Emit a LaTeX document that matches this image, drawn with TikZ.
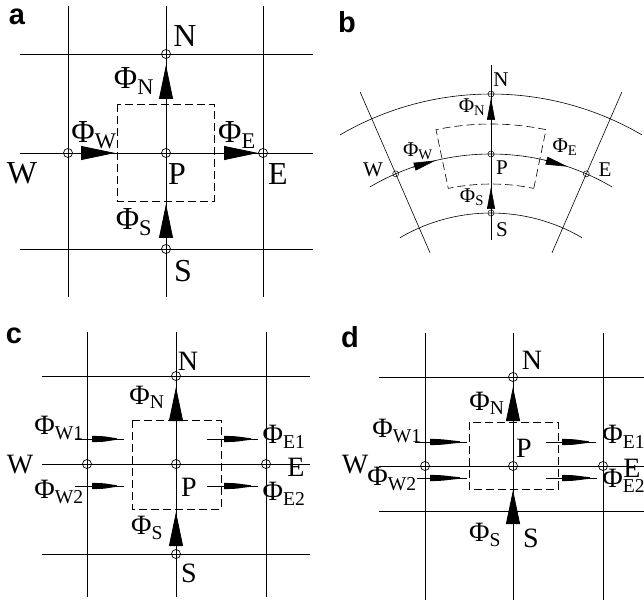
\documentclass[tikz,border=0pt]{standalone}
\usepackage{fontspec}
\setmainfont{Liberation Serif}
\newfontfamily\panelfont{Liberation Sans}
\usetikzlibrary{arrows.meta}

\newcommand{\fx}[1]{Φ\textsubscript{#1}}
% thin flux bar with a tapered black head (x start, x head, x end, y)
\newcommand{\flowbar}[4]{%
  \draw (#1,#4) -- (#3,#4);
  \fill (#2,#4+3.2) -- (#2+12,#4+2.7) -- (#3-7,#4+0.7) -- (#3-7,#4-0.7)
        -- (#2+12,#4-2.7) -- (#2,#4-3.2) -- cycle;}

\tikzset{
  cell/.style={dash pattern=on 8pt off 4pt},
  nodept/.style={circle,draw,inner sep=0pt,minimum size=9pt,line width=0.7pt},
  nodept small/.style={nodept,minimum size=6pt,line width=0.5pt},
  flux/.style={-{Triangle[length=34pt,width=14pt]}},
  flux small/.style={-{Triangle[length=22pt,width=8pt]}},
  panel/.style={font=\panelfont\bfseries\fontsize{29}{31}\selectfont},
}

\begin{document}
\begin{tikzpicture}[x=1pt,y=1pt,line width=0.8pt]
\clip (0,0) rectangle (644,-601);

% a: square cell
\begin{scope}[every node/.append style={font=\fontsize{32}{38}\selectfont,inner sep=0pt}]
  \foreach \x in {68,166,263} \draw (\x,-6) -- (\x,-297);
  \foreach \y in {54,153,249} \draw (20,-\y) -- (313,-\y);
  \draw[cell] (117,-104) rectangle (214,-201);
  \foreach \n/\x/\y in {N/166/54,W/68/153,P/166/153,E/263/153,S/166/249}
    \node[nodept] (a\n) at (\x,-\y) {};
  \draw[flux] (166,-100) -- (166,-65);
  \draw[flux] (166,-240) -- (166,-204);
  \draw[flux] (77,-153) -- (115,-153);
  \draw[flux] (218,-153) -- (258,-153);
  \node[panel] (la) at (17,-17) {a};
  \node (laN) at (185,-36) {N};
  \node (laW) at (22,-173) {W};
  \node (laP) at (177,-174) {P};
  \node (laE) at (278,-174) {E};
  \node (laS) at (183,-271) {S};
  \node (lafN) at (134,-81) {\fx{N}};
  \node (lafW) at (94,-135) {\fx{W}};
  \node (lafE) at (237,-135) {\fx{E}};
  \node (lafS) at (134,-222) {\fx{S}};
\end{scope}

% b: curved cell
\begin{scope}[line width=0.6pt,every node/.append style={font=\fontsize{21}{25}\selectfont,inner sep=0pt}]
  \begin{scope}[shift={(491,-393)}]
    \draw (59.7:299) arc[start angle=59.7,end angle=120.3,radius=299];
    \draw (59.5:239) arc[start angle=59.5,end angle=120.5,radius=239];
    \draw (59.6:180) arc[start angle=59.6,end angle=120.4,radius=180];
    \foreach \a in {66.5,90,113.5} \draw (\a:153) -- (\a:328);
    \draw[cell] (78.2:209) -- (78.2:269) arc[start angle=78.2,end angle=101.8,radius=269]
      -- (101.8:209) arc[start angle=101.8,end angle=78.2,radius=209] -- cycle;
    \foreach \n/\a/\r in {N/90/299,P/90/239,S/90/180,W/113.5/239,E/66.5/239}
      \node[nodept small] (b\n) at (\a:\r) {};
    \draw[flux small] (90:272) -- (90:295);
    \draw[flux small] (90:182) -- (90:206);
    \draw[flux small] (109.1:239) -- (103.4:239);
    \draw[flux small] (77.1:239) -- (71.3:239);
  \end{scope}
  \node[panel] (lb) at (347,-22) {b};
  \node (lbN) at (501,-80) {N};
  \node (lbW) at (373,-170) {W};
  \node (lbP) at (502,-168) {P};
  \node (lbE) at (605,-170) {E};
  \node (lbS) at (502,-230) {S};
  \node (lbfN) at (472,-107) {\fx{N}};
  \node (lbfW) at (418,-151) {\fx{W}};
  \node (lbfE) at (565,-147) {\fx{E}};
  \node (lbfS) at (472,-197) {\fx{S}};
\end{scope}

% c: two faces on the sides
\begin{scope}[every node/.append style={font=\fontsize{28}{33}\selectfont,inner sep=0pt}]
  \foreach \x in {87,176,266} \draw (\x,-332) -- (\x,-597);
  \foreach \y in {376,464,554} \draw (42,-\y) -- (310,-\y);
  \draw[cell] (132,-420) rectangle (221,-509);
  \foreach \n/\x/\y in {N/176/376,W/87/464,P/176/464,E/266/464,S/176/554}
    \node[nodept] (c\n) at (\x,-\y) {};
  \draw[flux] (176,-417) -- (176,-387);
  \draw[flux] (176,-545) -- (176,-512);
  \flowbar{75}{92}{124}{-439}
  \flowbar{75}{92}{124}{-486}
  \flowbar{207}{224}{258}{-439}
  \flowbar{207}{224}{258}{-486}
  \node[panel] (lc) at (14,-336) {c};
  \node (lcN) at (188,-361) {N};
  \node (lcW) at (20,-465) {W};
  \node (lcP) at (189,-487) {P};
  \node (lcE) at (296,-467) {E};
  \node (lcS) at (189,-573) {S};
  \node (lcfN) at (147,-397) {\fx{N}};
  \node (lcfS) at (147,-528) {\fx{S}};
  \node (lcfWa) at (59,-428) {\fx{W1}};
  \node (lcfWb) at (59,-492) {\fx{W2}};
  \node (lcfEa) at (284,-437) {\fx{E1}};
  \node (lcfEb) at (284,-494) {\fx{E2}};
\end{scope}

% d: shifted cell
\begin{scope}[every node/.append style={font=\fontsize{28}{33}\selectfont,inner sep=0pt}]
  \foreach \x in {425,513,603} \draw (\x,-333) -- (\x,-600);
  \foreach \y in {377,466,511} \draw (379,-\y) -- (644,-\y);
  \draw[cell] (469,-422) rectangle (558,-489);
  \foreach \n/\x/\y in {N/513/377,W/425/466,P/513/466,E/603/466}
    \node[nodept] (d\n) at (\x,-\y) {};
  \draw[flux] (513,-418) -- (513,-387);
  \draw[flux] (513,-522) -- (513,-490);
  \flowbar{415}{430}{467}{-442}
  \flowbar{417}{430}{467}{-478}
  \flowbar{546}{562}{596}{-442}
  \flowbar{546}{562}{597}{-478}
  \node[panel] (ld) at (350,-337) {d};
  \node (ldN) at (532,-360) {N};
  \node (ldW) at (355,-465) {W};
  \node (ldP) at (524,-448) {P};
  \node[anchor=west] (ldE) at (623,-468) {E};
  \node (ldS) at (531,-538) {S};
  \node (ldfN) at (487,-403) {\fx{N}};
  \node (ldfS) at (485,-535) {\fx{S}};
  \node (ldfWa) at (397,-431) {\fx{W1}};
  \node (ldfWb) at (392,-479) {\fx{W2}};
  \node[anchor=west] (ldfEa) at (602,-437) {\fx{E1}};
  \node[anchor=west] (ldfEb) at (602,-481) {\fx{E2}};
\end{scope}
\end{tikzpicture}
\end{document}
